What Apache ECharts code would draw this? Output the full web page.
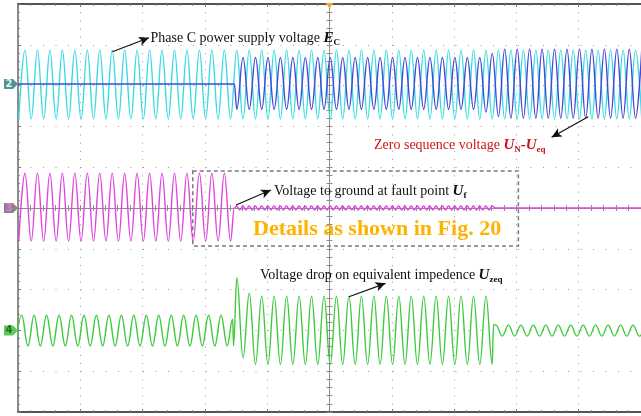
<!DOCTYPE html>
<html>
<head>
<meta charset="utf-8" />
<script src="https://cdn.jsdelivr.net/npm/echarts@6/dist/echarts.min.js"></script>
</head>
<body style="margin:0">
<div id="main" style="width:641px;height:416px;"></div>
<script type="text/javascript">
// screen units: x in horizontal divisions (-5..5), y in vertical divisions (-5..5)
// an entry is either a single point [x, y] or a run [xStart, xEnd, step, first, second]
// whose points alternate between the two values (crest / trough)
var ecWave = [[-4.988, 5.012, 0.1, 2.18, 3.87]];
var unWave = [[-5, 3.04], [-1.528, 3.04],
  [-1.488, 2.312, 0.1, 2.42, 3.69],
  [2.412, 3.69], [2.512, 2.35], [2.612, 3.79], [2.712, 2.24],
  [2.812, 5.012, 0.1, 3.89, 2.20]];
var ufWave = [[-4.988, -1.588, 0.1, -0.81, 0.85],
  [-1.528, 0],
  [-1.49, 2.61, 0.05, 0.05, -0.05],
  [2.66, 0], [5.01, 0]];
var uzWave = [[-5.041, -1.641, 0.1, -3.38, -2.63],
  [-1.555, -2.72], [-1.54, -3.38], [-1.488, -1.71], [-1.388, -3.67], [-1.288, -2.09], [-1.188, -3.83],
  [-1.088, 2.612, 0.1, -2.16, -3.83],
  [2.632, -2.86],
  [2.672, 5.072, 0.1, -2.87, -3.14]];
var channelLevels = [3.04, 0, -3.0];   // ch2, ch3, ch4 ground markers
var channelNames = ['2', '3', '4'];

var SERIF = '"Liberation Serif", "Times New Roman", serif';

function expand(list) {
  var out = [];
  list.forEach(function (r) {
    if (r.length === 2) { out.push(r); return; }
    var n = Math.round((r[1] - r[0]) / r[2]);
    for (var i = 0; i <= n; i++) {
      out.push([+(r[0] + i * r[2]).toFixed(3), i % 2 ? r[4] : r[3]]);
    }
  });
  return out;
}

function trace(name, wave, color, z) {
  return {
    name: name, type: 'line', data: expand(wave), z: z,
    showSymbol: false, smooth: 0.4, smoothMonotone: 'x', silent: true, clip: true,
    lineStyle: { color: color, width: 1.4 }
  };
}

var myChart = echarts.init(document.getElementById('main'));

var centerAxis = function (extra) {
  return Object.assign({
    type: 'value', min: -5, max: 5, interval: 1,
    axisLabel: { show: false },
    axisLine: { onZero: true, lineStyle: { color: '#8c8c8c', width: 1 } },
    axisTick: { show: true, length: 3, lineStyle: { color: '#8c8c8c' } },
    minorTick: { show: true, splitNumber: 5, length: 3, lineStyle: { color: '#8c8c8c' } },
    splitLine: { show: false }
  }, extra);
};
var edgeAxis = function (extra) {
  return Object.assign({
    type: 'value', min: -5, max: 5, interval: 1,
    axisLabel: { show: false },
    axisLine: { onZero: false, lineStyle: { color: '#555', width: 2 } },
    axisTick: { show: true, inside: true, length: 3, lineStyle: { color: '#777' } },
    minorTick: { show: true, splitNumber: 5, length: 2, lineStyle: { color: '#888' } },
    splitLine: { show: false }
  }, extra);
};

var arrows = [
  [[-3.485, 3.83], [-2.898, 4.174]],
  [[4.152, 2.238], [3.565, 1.733]],
  [[-1.50, 0.074], [-0.94, 0.441]],
  [[0.312, -2.174], [0.899, -1.846]]
];

var option = {
  animation: false,
  backgroundColor: '#fff',
  grid: { left: 18, top: 4, width: 625, height: 408, show: false },
  xAxis: [
    centerAxis({ position: 'bottom',
      splitLine: { show: true, lineStyle: { color: '#9a9a9a', width: 1, type: [1, 7.16] } } }),
    centerAxis({ position: 'top' }),
    edgeAxis({ position: 'top' }),
    edgeAxis({ position: 'bottom' })
  ],
  yAxis: [
    centerAxis({ position: 'left',
      splitLine: { show: true, lineStyle: { color: '#9a9a9a', width: 1, type: [1, 11.5] } } }),
    centerAxis({ position: 'right' }),
    edgeAxis({ position: 'left', axisLine: { onZero: false, lineStyle: { color: '#666', width: 1.5 } } })
  ],
  series: [
    trace('EC', ecWave, '#38dbe2', 3),
    trace('UN-Ueq', unWave, '#4848d6', 4),
    trace('Uf', ufWave, '#e044e0', 3),
    trace('Uzeq', uzWave, '#3dcb3d', 3),
    {
      type: 'line', data: [], z: 6, silent: true,
      markLine: {
        silent: true, animation: false,
        symbol: ['none', 'arrow'], symbolSize: [7, 10],
        label: { show: false },
        lineStyle: { color: '#111', width: 1.2, type: 'solid' },
        data: arrows.map(function (a) { return [{ coord: a[0] }, { coord: a[1] }]; })
      },
      markArea: {
        silent: true,
        itemStyle: { color: 'rgba(0,0,0,0)', borderColor: '#7a7a7a', borderWidth: 1.5, borderType: [4, 3] },
        data: [[{ coord: [-2.195, 0.907] }, { coord: [3.032, -0.931] }]]
      }
    }
  ]
};
myChart.setOption(option);

// annotations and screen decorations
var graphics = [];
var markerFill = ['#4f9494', '#8a858a', '#5cc85c'];
var markerText = ['#e6f6f6', '#f070f0', '#256b25'];
channelLevels.forEach(function (v, i) {
  var p = myChart.convertToPixel({ xAxisIndex: 0, yAxisIndex: 0 }, [-5, v]);
  var y = p[1];
  graphics.push({
    type: 'polygon', z: 100,
    shape: { points: [[4, y - 5], [13, y - 5], [18, y], [13, y + 5], [4, y + 5]] },
    style: { fill: markerFill[i] }
  });
  graphics.push({
    type: 'text', z: 101, x: 9, y: y,
    style: { text: channelNames[i], fill: markerText[i], font: 'bold 10px "DejaVu Sans"', align: 'center', verticalAlign: 'middle' }
  });
});
var trig = myChart.convertToPixel({ xAxisIndex: 0, yAxisIndex: 0 }, [0, 5]);
graphics.push({
  type: 'polygon', z: 100,
  shape: { points: [[trig[0] - 4, trig[1] - 1], [trig[0] + 4, trig[1] - 1], [trig[0], trig[1] + 4]] },
  style: { fill: '#f5a623' }
});

function label(x, y, text, color, size) {
  return {
    type: 'text', z: 100, x: x, y: y,
    style: {
      text: text, fill: color, fontFamily: SERIF, fontSize: size || 14,
      verticalAlign: 'middle', lineHeight: 18,
      rich: {
        v: { fontFamily: SERIF, fontSize: 15, fontWeight: 'bold', fontStyle: 'italic', fill: color },
        s: { fontFamily: SERIF, fontSize: 9, fontWeight: 'bold', fill: color, verticalAlign: 'bottom', lineHeight: 10 }
      }
    }
  };
}
graphics.push(label(150.5, 38, 'Phase C power supply voltage {v|E}{s|C}', '#111'));
graphics.push(label(374, 145, 'Zero sequence voltage {v|U}{s|N}{v|-U}{s|eq}', '#cc1616'));
graphics.push(label(274, 191, 'Voltage to ground at fault point {v|U}{s|f}', '#111'));
graphics.push(label(260, 275, 'Voltage drop on equivalent impedence {v|U}{s|zeq}', '#111'));
graphics.push({
  type: 'text', z: 100, x: 253, y: 229,
  style: { text: 'Details as shown in Fig. 20', fill: '#ffb300', fontFamily: SERIF, fontSize: 22, fontWeight: 'bold', verticalAlign: 'middle' }
});

myChart.setOption({ graphic: graphics });
</script>
</body>
</html>
